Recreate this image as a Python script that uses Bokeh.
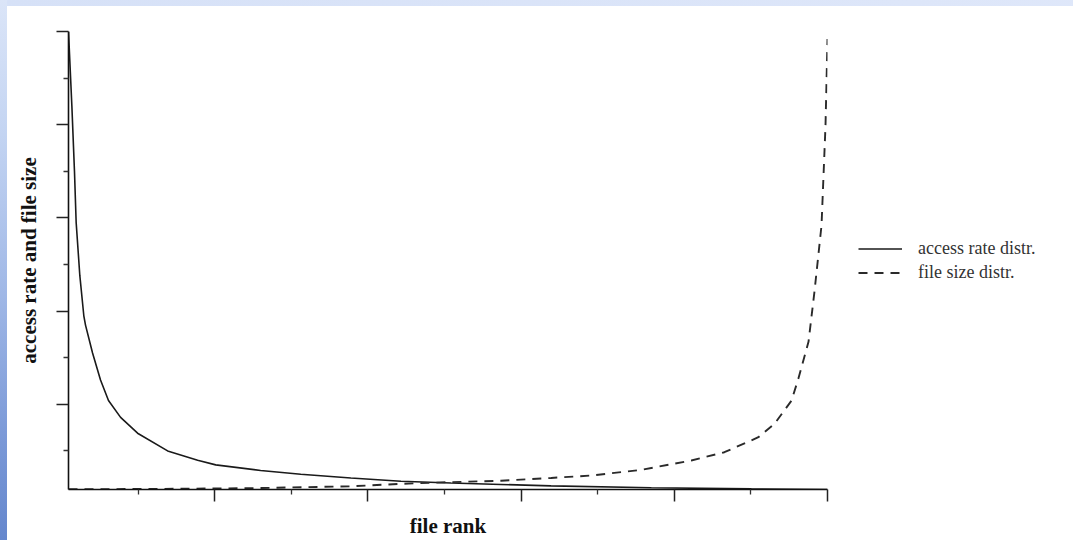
from bokeh.plotting import figure
from bokeh.models import FixedTicker, Legend, LegendItem, Range1d, CustomJSTickFormatter
from bokeh.embed import file_html
from bokeh.resources import INLINE

# ---- data (units: one x tick = 1, one y tick = 1) ----
rank_access = [0.046, 0.068, 0.085, 0.096, 0.12, 0.146, 0.157, 0.203, 0.255, 0.307,
               0.386, 0.497, 0.693, 0.889, 1.007, 1.30, 1.562, 1.889, 2.216, 2.542,
               2.869, 3.196, 3.85, 4.503, 5.0]
access_rate = [5.0, 4.2, 3.5, 2.95, 2.38, 1.95, 1.85, 1.55, 1.26, 1.04,
               0.86, 0.69, 0.50, 0.40, 0.35, 0.29, 0.25, 0.21, 0.175, 0.155,
               0.14, 0.125, 0.105, 0.093, 0.086]

rank_size = [0.046, 0.6, 1.235, 1.889, 2.216, 2.542, 2.869, 3.196, 3.458, 3.784,
             4.111, 4.327, 4.549, 4.654, 4.765, 4.81, 4.876, 4.915, 4.961, 4.987, 5.0]
file_size = [0.088, 0.092, 0.10, 0.12, 0.147, 0.165, 0.18, 0.21, 0.236, 0.297,
             0.397, 0.486, 0.647, 0.79, 1.04, 1.276, 1.67, 2.21, 2.92, 3.99, 4.92]

x_major = [1, 2, 3, 4, 5]
x_minor = [0.5, 1.5, 2.5, 3.5, 4.5]
y_major = [1, 2, 3, 4, 5]
y_minor = [0.5, 1.5, 2.5, 3.5, 4.5]

series_labels = ["access rate distr.", "file size distr."]
x_title = "file rank"
y_title = "access rate and file size"

SERIF = "Liberation Serif"

p = figure(frame_width=759, frame_height=458, output_backend="svg",
           toolbar_location=None,
           x_range=Range1d(0.046, 5.0), y_range=Range1d(0.086, 5.0),
           min_border_left=61, min_border_right=230, min_border_top=25,
           min_border_bottom=50)
p.styles = {"padding-left": "7px", "padding-top": "6px",
            "background": "linear-gradient(180deg, #dbe5f8 0%, #c3d4f2 25%, "
                          "#9fb7e6 55%, #7c9ad8 80%, #6587cd 100%) left top / 7px 100% no-repeat, "
                          "linear-gradient(90deg, #d6e1f7 0%, #dde6f9 60%, #e2eafb 100%) "
                          "left top / 100% 6px no-repeat, #ffffff"}
p.outline_line_color = None
p.grid.visible = False
p.background_fill_color = "white"
p.border_fill_color = "white"

r1 = p.line(rank_access, access_rate, line_color="#1a1a1a", line_width=1.6)
r2 = p.line(rank_size, file_size, line_color="#2a2a2a", line_width=1.9,
            line_dash="9 7")

blank = CustomJSTickFormatter(code="return ''")
for ax, maj, mnr in ((p.xaxis[0], x_major, x_minor), (p.yaxis[0], y_major, y_minor)):
    ax.ticker = FixedTicker(ticks=maj, minor_ticks=mnr)
    ax.formatter = blank
    ax.axis_line_color = "#111111"
    ax.axis_line_width = 1.6
    ax.major_tick_line_color = "#222222"
    ax.major_tick_line_width = 1.5
    ax.minor_tick_line_color = "#333333"
    ax.minor_tick_line_width = 1.3
    ax.major_tick_in = 0
    ax.major_tick_out = 12
    ax.minor_tick_in = 0
    ax.minor_tick_out = 5
    ax.major_label_standoff = 0
    ax.axis_label_text_font = SERIF
    ax.axis_label_text_font_style = "bold"
    ax.axis_label_text_font_size = "21px"
    ax.axis_label_text_color = "#111111"

p.xaxis.axis_label = x_title
p.yaxis.axis_label = y_title
p.xaxis.axis_label_standoff = 12
p.yaxis.axis_label_standoff = 16

legend = Legend(items=[LegendItem(label=series_labels[0], renderers=[r1]),
                       LegendItem(label=series_labels[1], renderers=[r2])],
                location="center_left", glyph_width=44, glyph_height=18,
                label_height=18, label_standoff=16, spacing=3,
                label_text_font=SERIF, label_text_font_size="18px",
                label_text_color="#333333", border_line_color=None,
                background_fill_alpha=0, margin=31, padding=8)
p.add_layout(legend, "right")

open("out.html", "w").write(file_html(p, INLINE))
